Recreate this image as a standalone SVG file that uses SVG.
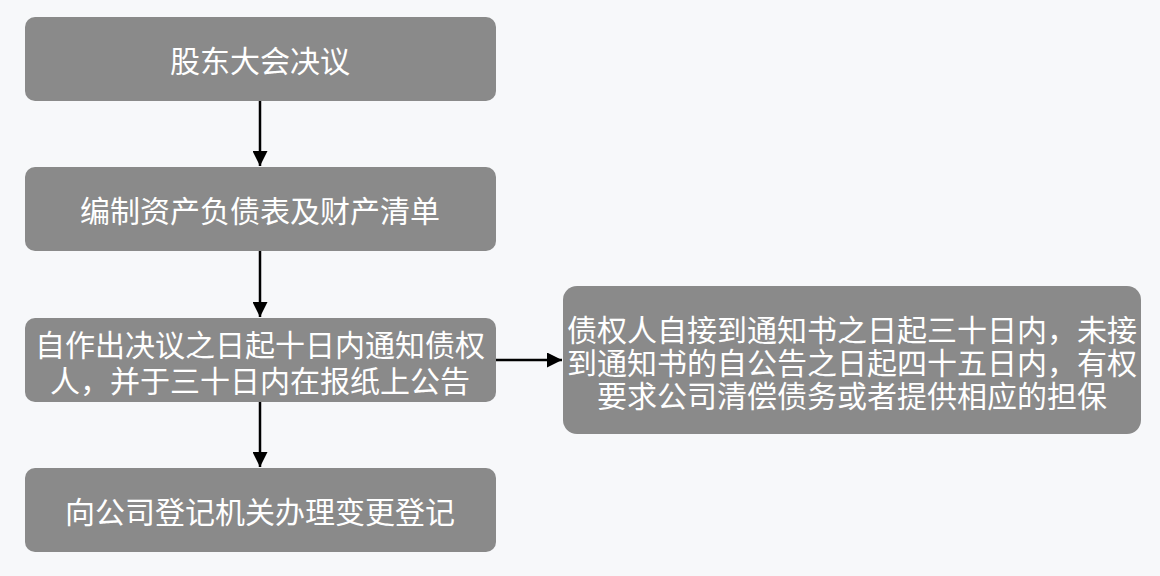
<svg xmlns="http://www.w3.org/2000/svg" width="1160" height="576" viewBox="0 0 1160 576">
<defs>
<marker id="ah" viewBox="0 0 10 10" refX="10" refY="5" markerWidth="6" markerHeight="6" orient="auto" markerUnits="strokeWidth">
<path d="M0,0 L10,5 L0,10 z" fill="#000"/>
</marker>
<style>
.box{fill:#8a8a8a;}
.t{font-family:"Noto Sans CJK SC","Noto Sans",sans-serif;font-size:30px;fill:#ffffff;text-anchor:middle;dominant-baseline:central;}
.c{stroke:#000;stroke-width:2.5;fill:none;marker-end:url(#ah);}
</style>
</defs>
<rect x="0" y="0" width="1160" height="576" fill="#f7f8fa"/>
<g id="n1">
<rect class="box" x="25" y="17" width="471" height="84" rx="10"/>
<text class="t" x="260" y="59">股东大会决议</text>
</g>
<g id="n2">
<rect class="box" x="25" y="167" width="471" height="84" rx="10"/>
<text class="t" x="260" y="209">编制资产负债表及财产清单</text>
</g>
<g id="n3">
<rect class="box" x="25" y="318" width="471" height="84" rx="10"/>
<text class="t"><tspan x="260" y="343">自作出决议之日起十日内通知债权</tspan><tspan x="260" y="379">人，并于三十日内在报纸上公告</tspan></text>
</g>
<g id="n4">
<rect class="box" x="25" y="468" width="471" height="84" rx="10"/>
<text class="t" x="260" y="510">向公司登记机关办理变更登记</text>
</g>
<g id="n5">
<rect class="box" x="563" y="286" width="578" height="148" rx="14"/>
<text class="t"><tspan x="852" y="328">债权人自接到通知书之日起三十日内，未接</tspan><tspan x="852" y="361">到通知书的自公告之日起四十五日内，有权</tspan><tspan x="852" y="394">要求公司清偿债务或者提供相应的担保</tspan></text>
</g>
<g id="connectors">
<line class="c" x1="260" y1="101" x2="260" y2="166"/>
<line class="c" x1="260" y1="251" x2="260" y2="317"/>
<line class="c" x1="260" y1="402" x2="260" y2="467"/>
<line class="c" x1="496" y1="360" x2="562" y2="360"/>
</g>
</svg>
